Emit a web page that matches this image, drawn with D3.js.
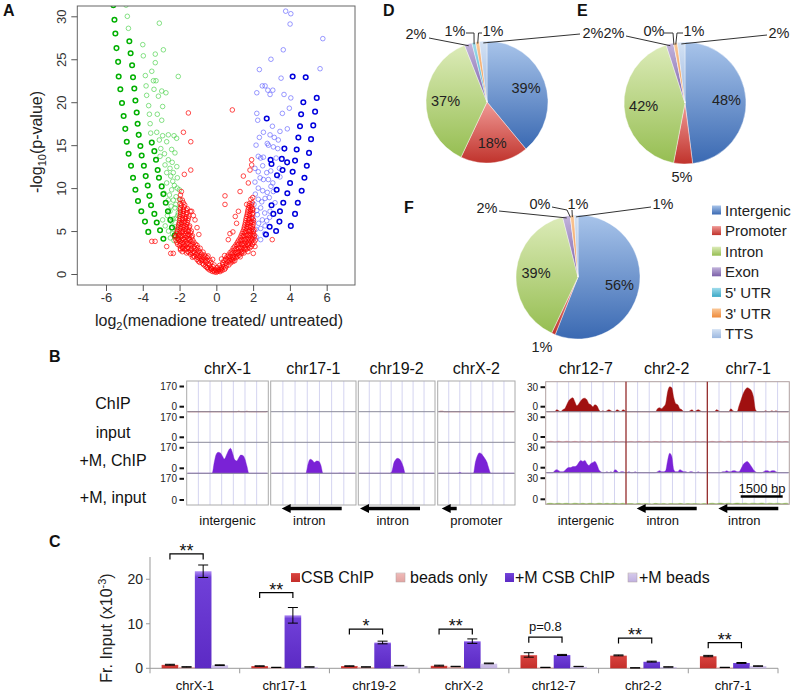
<!DOCTYPE html>
<html><head><meta charset="utf-8">
<script src="https://cdn.jsdelivr.net/npm/d3@7"></script>
<style>body{margin:0;background:#fff}svg{display:block}</style>
</head><body><svg id="c" width="792" height="691"></svg>
<script>
// ---------------- DATA ----------------
// Panel A: volcano plot points [log2FC, -log10 p]
const volcanoXTicks = [-6,-4,-2,0,2,4,6];
const volcanoYTicks = [0,5,10,15,20,25,30];
const greenBold = [
[-5.60,31.3],[-5.54,29.6],[-5.49,28.0],[-5.43,26.3],[-5.34,24.7],[-5.31,23.0],[-5.22,21.5],[-5.13,19.9],[-5.04,18.4],[-4.95,16.9],[-4.87,15.4],[-4.77,14.0],[-4.64,12.6],[-4.53,11.2],[-4.40,9.8],[-4.26,8.5],[-4.08,7.3],[-3.88,6.1],[-3.70,4.9],
[-4.73,27.1],[-4.66,25.7],[-4.58,24.3],[-4.53,22.9],[-4.46,21.6],[-4.40,20.2],[-4.33,18.8],[-4.28,17.5],[-4.22,16.2],[-4.13,14.9],[-4.06,13.8],[-3.94,12.6],[-3.84,11.4],[-3.73,10.3],[-3.64,9.1],[-3.55,8.0],[-3.37,7.0],[-3.24,6.0],[-3.06,5.1],[-2.88,4.1],
[-3.51,15.3],[-3.37,14.3],[-3.28,13.3],[-3.19,12.1],[-3.12,11.2],[-2.97,10.2],[-2.88,9.3],[-2.75,8.3],[-2.63,7.3],[-2.50,6.3],[-2.41,5.4],[-2.26,4.5]
];
const greenLight = [
[-4.91,31.3],[-4.84,30.0],[-4.78,28.6],[-4.00,26.7],[-3.97,25.4],[-3.86,23.1],[-3.82,21.9],[-3.79,20.8],[-3.51,23.6],[-3.42,22.5],[-3.39,21.5],[-3.32,25.6],[-3.32,24.6],[-3.10,29.2],[-2.88,26.1],[-3.28,22.5],[-2.97,21.3],[-2.74,21.1],[-3.15,20.7],[-2.92,19.5],[-3.68,19.6],[-3.64,18.6],[-3.60,17.5],[-3.21,18.6],[-2.97,17.9],[-3.57,16.4],[-3.24,16.5],[-2.92,16.1],[-2.61,16.2],[-2.30,16.1],[-2.16,15.8],[-2.07,23.0],[-2.70,15.4],[-2.43,14.5],[-2.25,14.1],[-3.10,15.6],[-3.02,14.6],[-2.82,14.0],
[-2.61,13.3],[-2.52,12.3],[-2.48,11.4],[-2.70,10.6],[-2.37,10.8],[-2.43,9.8],[-2.34,8.6],[-2.61,8.6],[-2.25,7.7],[-2.52,7.3],[-2.19,6.5],[-2.43,6.1],[-2.16,5.1],[-2.37,4.7],[-2.07,4.4],[-2.34,11.8],[-2.12,11.2],[-2.19,9.0],[-2.01,9.8],[-2.07,7.1],[-2.01,5.9],[-1.97,8.6],[-2.25,5.5],[-2.70,11.8],[-2.79,12.7],[-3.06,13.7],[-2.84,9.4],[-2.92,6.3],[-2.55,9.2],[-2.28,10.3],[-2.15,12.5],[-2.40,13.0],[-2.60,5.0],[-2.10,6.8],[-2.30,3.9],[-2.05,4.0],[-2.50,4.2],[-2.20,8.1],[-2.66,6.8],[-2.78,5.6],[-2.13,10.0],[-2.02,7.6],[-2.46,7.9],[-2.35,6.4]
];
const blueLight = [
[3.77,30.6],[4.05,30.3],[4.01,29.1],[5.79,27.4],[3.64,26.1],[2.97,25.0],[5.64,23.9],[2.34,23.8],[3.52,22.8],[2.50,21.9],[2.65,21.9],[2.20,21.1],[2.80,21.4],[3.07,21.4],[2.92,20.9],[3.68,20.9],[4.05,20.5],[3.97,19.3],[3.59,18.7],[2.20,18.7],[2.25,17.9],[3.05,17.2],[3.86,16.9],[3.46,16.6],[2.56,16.5],[2.92,16.2],[3.15,15.9],[3.37,15.6],[2.34,15.9],[2.77,15.2],[2.16,15.0],[2.83,15.0],[3.10,14.8],[3.34,14.6],[2.28,13.7],[2.41,13.5],[2.56,13.6],[3.25,13.5],[2.52,12.6],[2.10,12.3],[2.28,11.9],[2.74,11.8],[2.96,12.0],[3.46,11.3],[3.43,12.3],[2.38,11.2],[2.56,11.0],[2.83,11.0],[2.10,10.7],[3.07,10.6],[2.28,10.0],[2.52,9.7],[2.77,9.5],[2.97,10.2],[3.19,8.3],[2.28,8.7],[2.47,8.4],[2.65,8.8],[2.88,8.9],[2.92,7.3],[2.41,7.7],[2.63,7.1],[2.23,6.9],[2.50,6.3],[2.74,6.2],[2.30,5.9],[2.41,5.3],[2.63,4.7],[2.16,4.3],[2.41,4.0],[2.65,5.6],[2.12,9.3],[2.20,7.4],[2.05,8.1],[2.15,5.2],[2.90,6.6],[3.10,9.6],[2.00,6.4]
];
const blueBold = [
[4.15,23.0],[4.86,22.9],[5.46,20.5],[4.73,20.0],[5.37,18.9],[2.74,18.1],[4.61,18.6],[5.27,17.3],[4.55,17.2],[4.46,15.9],[5.15,15.7],[3.70,14.6],[4.37,14.5],[5.04,14.1],[3.56,13.4],[4.28,13.2],[4.92,12.6],[4.15,11.9],[4.79,11.2],[4.01,10.6],[4.64,9.7],[3.28,9.8],[3.86,9.4],[4.43,8.3],[3.64,8.3],[4.28,7.0],[3.46,7.3],[3.25,5.0],[4.05,5.6],[3.43,6.1],[3.00,8.0],[3.10,7.0],[2.90,5.5],[2.70,4.6],[3.30,11.5],[3.00,12.8],[3.60,12.1],[2.95,13.3],[3.85,13.0]
];
const redPts = [
[-1.52,18.75],[-1.79,16.5],[-1.39,15.4],[-1.39,12.1],[-1.74,11.6],[0.87,19.1],[0.47,9.1],[0.47,8.1],[1.29,9.6],[1.74,10.6],[1.47,11.4],[1.92,13.3],[1.92,12.7],[1.83,12.1],[-2.70,3.2],[-2.48,2.4],[-2.34,2.4],[-1.83,3.0],[2.01,2.4],[2.10,3.2],[0.65,4.0],[0.74,4.7],[-3.51,3.8],[-3.33,3.8],[3.04,4.0],[-1.90,9.6],[-1.95,9.2],
[-1.34,7.3],[-1.16,6.3],[-1.25,6.8],[1.20,7.3],[1.03,6.7],[1.10,5.9],[-1.05,5.4],[-0.95,4.6],[0.90,4.9],
[-0.35,0.45],[-0.22,0.3],[-0.10,0.25],[0.00,0.2],[0.08,0.3],[0.20,0.28],[0.32,0.42],[-0.45,0.6],[0.45,0.55],[-0.05,0.5],[0.12,0.55],
[0.00,0.4],[-0.15,0.4],[0.15,0.45],[-0.28,0.55],[0.25,0.5],
[-0.60,0.9],[-0.48,0.75],[-0.30,0.7],[-0.18,0.85],[0.25,0.75],[0.40,0.85],[0.55,0.95],[0.18,1.0],[-0.70,1.1],[0.68,1.05],
[-0.25,0.6],[0.28,0.62],[-0.52,0.8],[0.50,0.72],[-0.38,1.0],[0.05,0.75],[-0.12,1.05],[0.35,1.1],
[-0.90,1.35],[-0.75,1.25],[-0.58,1.4],[-0.42,1.2],[-0.30,1.35],[0.35,1.3],[0.50,1.2],[0.62,1.4],[0.78,1.3],[0.90,1.45],
[-0.98,1.5],[-0.82,1.55],[-0.66,1.5],[-0.50,1.55],[-0.35,1.6],[0.42,1.55],[0.58,1.6],[0.72,1.55],[0.86,1.6],[1.00,1.55],[-0.20,1.7],[0.28,1.75],
[-1.05,1.7],[-0.92,1.8],[-0.78,1.65],[-0.62,1.75],[-0.50,1.9],[0.52,1.75],[0.68,1.85],[0.82,1.7],[0.95,1.8],[1.08,1.9],
[-1.30,1.95],[-1.18,2.0],[-1.02,1.95],[-0.88,2.0],[-0.72,1.95],[-0.58,2.05],[-0.45,2.1],[0.58,2.0],[0.74,2.05],[0.88,1.98],[1.02,2.02],[1.16,2.08],[1.30,2.0],[0.45,2.15],
[-1.40,2.3],[-1.25,2.1],[-1.10,2.25],[-0.95,2.15],[-0.80,2.3],[-0.65,2.2],[0.65,2.2],[0.80,2.35],[0.95,2.1],[1.10,2.3],[1.25,2.2],[1.38,2.4],
[-1.62,2.45],[-1.48,2.5],[-1.32,2.45],[-1.18,2.5],[-1.02,2.45],[-0.88,2.5],[-0.72,2.55],[0.75,2.5],[0.90,2.45],[1.05,2.5],[1.20,2.45],[1.35,2.55],[1.50,2.45],[-1.95,2.8],[1.72,2.6],
[-1.70,2.8],[-1.55,2.6],[-1.40,2.75],[-1.25,2.65],[-1.10,2.8],[-0.95,2.7],[0.85,2.7],[1.00,2.8],[1.15,2.6],[1.30,2.75],[1.45,2.65],[1.60,2.85],[-1.85,2.6],
[-1.95,2.95],[-1.80,3.0],[-1.65,2.95],[-1.50,3.0],[-1.35,2.95],[-1.18,3.0],[-1.02,3.05],[-0.88,3.0],[0.92,3.0],[1.08,2.95],[1.22,3.0],[1.38,2.95],[1.52,3.0],[1.68,2.95],[1.82,3.05],
[-2.00,3.3],[-1.85,3.15],[-1.70,3.25],[-1.55,3.1],[-1.40,3.3],[-1.20,3.2],[-1.05,3.35],[1.00,3.2],[1.15,3.35],[1.30,3.1],[1.45,3.3],[1.60,3.15],[1.75,3.3],[1.90,3.2],
[-2.10,3.45],[-1.95,3.5],[-1.78,3.45],[-1.62,3.5],[-1.47,3.45],[-1.30,3.5],[-1.13,3.45],[1.08,3.45],[1.22,3.5],[1.38,3.45],[1.52,3.5],[1.68,3.45],[1.82,3.5],[1.97,3.45],
[-2.15,3.7],[-2.00,3.8],[-1.85,3.65],[-1.70,3.75],[-1.55,3.6],[-1.38,3.8],[-1.22,3.7],[1.15,3.7],[1.30,3.85],[1.45,3.6],[1.60,3.75],[1.75,3.65],[1.90,3.8],[2.05,3.7],
[-2.20,3.95],[-2.05,4.0],[-1.90,3.95],[-1.75,4.0],[-1.60,3.95],[-1.45,4.0],[-1.28,3.95],[1.22,3.95],[1.38,4.0],[1.52,3.95],[1.68,4.0],[1.82,3.95],[1.98,4.0],[2.12,3.95],
[-2.25,4.3],[-2.10,4.15],[-1.95,4.3],[-1.80,4.1],[-1.65,4.25],[-1.50,4.15],[-1.35,4.3],[1.30,4.2],[1.45,4.35],[1.60,4.1],[1.75,4.25],[1.90,4.15],[2.05,4.3],
[-2.20,4.45],[-2.05,4.5],[-1.90,4.45],[-1.75,4.5],[-1.60,4.45],[-1.45,4.5],[-1.30,4.45],[1.35,4.45],[1.50,4.5],[1.65,4.45],[1.80,4.5],[1.95,4.45],[2.08,4.5],
[-2.15,4.75],[-2.00,4.65],[-1.85,4.8],[-1.70,4.7],[-1.55,4.6],[-1.40,4.8],[1.40,4.7],[1.55,4.8],[1.70,4.6],[1.85,4.75],[2.00,4.65],
[-2.12,4.95],[-1.98,5.0],[-1.82,4.95],[-1.67,5.0],[-1.52,4.95],[-1.36,5.0],[1.45,4.95],[1.60,5.0],[1.75,4.95],[1.90,5.0],[2.02,4.95],
[-2.10,5.2],[-1.95,5.3],[-1.80,5.15],[-1.65,5.25],[-1.50,5.1],[1.50,5.2],[1.65,5.3],[1.80,5.1],[1.95,5.25],[2.05,5.15],
[-2.08,5.45],[-1.92,5.5],[-1.78,5.45],[-1.62,5.5],[-1.48,5.45],[1.52,5.45],[1.67,5.5],[1.82,5.45],[1.96,5.5],
[-2.05,5.7],[-1.90,5.8],[-1.75,5.65],[-1.60,5.75],[-1.45,5.6],[1.55,5.7],[1.70,5.8],[1.85,5.6],[2.00,5.75],
[-2.02,5.95],[-1.88,6.0],[-1.72,5.95],[-1.58,6.0],[1.58,5.95],[1.72,6.0],[1.87,5.95],[2.00,6.0],
[-2.00,6.2],[-1.85,6.3],[-1.70,6.15],[-1.55,6.25],[1.60,6.2],[1.75,6.3],[1.90,6.1],[2.02,6.25],
[-1.98,6.45],[-1.84,6.5],[-1.68,6.45],[-1.52,6.5],[1.62,6.45],[1.78,6.5],[1.92,6.45],
[-1.98,6.7],[-1.82,6.8],[-1.65,6.65],[-1.50,6.75],[1.65,6.7],[1.80,6.8],[1.95,6.6],
[-1.95,6.95],[-1.80,7.0],[-1.64,6.95],[1.68,6.95],[1.82,7.0],[1.96,6.95],
[-1.95,7.2],[-1.78,7.3],[-1.60,7.15],[-1.42,7.3],[1.70,7.2],[1.85,7.3],[1.98,7.1],
[-1.96,7.45],[-1.80,7.5],[-1.64,7.45],[1.72,7.45],[1.86,7.5],[1.98,7.45],
[-1.95,7.7],[-1.75,7.8],[-1.58,7.6],[1.75,7.7],[1.90,7.8],[1.98,7.6],
[-1.90,8.0],[-1.72,8.05],[1.78,7.95],[1.92,8.05],
[-1.97,8.2],[-1.80,8.3],[1.80,8.2],[1.95,8.3],[1.65,8.1],
[-1.98,8.7],[-1.85,8.6],[1.88,8.7],[1.98,8.9]
];

// Panels D/E/F: genomic annotation pies (%)
const pieCategories = ['Intergenic','Promoter','Intron','Exon',"5' UTR","3' UTR",'TTS'];
const pieD = [39,18,37,2,1,1,2];
const pieE = [48,5,42,2,0,1,2];
const pieF = [56,1,39,2,0,1,1];

// Panel B: tracks (40 bins per locus)
const leftLoci = ['chrX-1','chr17-1','chr19-2','chrX-2'];
const rightLoci = ['chr12-7','chr2-2','chr7-1'];
const trackRows = ['ChIP','input','+M, ChIP','+M, input'];
const leftMax = 170, rightMax = 30;
const leftRegion = ['intergenic','intron','intron','promoter'];
const rightRegion = ['intergenic','intron','intron'];
const chrX1_ChIP = [0,0,0,0,0,0,0,0,0,0,0,0,0,0,0,0,0,0,0,0,0,0,0,0,0,3,0,0,0,3,0,0,0,0,0,0,0,0,0,2];
const chrX1_M = [0,0,0,0,0,0,0,0,0,0,0,0,0,60,105,115,112,95,78,100,125,137,110,75,68,85,100,98,80,40,0,0,0,0,0,0,0,0,0,0];
const chr17_M = [0,0,0,0,0,0,0,0,0,0,0,0,0,0,0,0,0,50,77,72,60,68,66,45,0,0,0,0,0,0,0,0,2,0,0,0,0,0,0,0];
const chr19_M = [0,0,0,0,0,0,0,0,0,0,0,0,0,0,0,0,0,10,55,75,82,78,62,35,0,0,0,0,0,0,0,0,0,0,0,0,0,0,0,0];
const chrX2_ChIP = [0,3,3,0,0,0,0,0,0,0,0,0,0,0,0,0,0,0,0,0,0,0,0,0,0,0,0,0,0,0,0,0,0,0,0,0,0,0,0,0];
const chrX2_M = [0,0,0,0,0,0,0,0,0,0,0,4,0,0,0,0,0,0,0,60,95,112,108,95,80,60,25,0,0,0,0,0,0,0,0,0,0,0,0,0];
const chr12_ChIP = [0,0,0,0,0,2,1,0,2,3,7,11,13,14,10,6,8,11,13,13.5,12,8,7,5,7,6,2,0,1,0,1,2,1,0,0,2,1,0,2,1];
const chr2_ChIP = [0,0,0,0,0,0,0,0,0,0,0,0,0,0,0,3,4,3,5,8,20,25,24,14,8,7,3,2,0,0,0,1,2,0,1,2,1,0,0,0];
const chr7_ChIP = [0,0,0,0,2,1,0,0,0,0,0,3,1,0,0,6,12,18,22,24,23,21,15,2,0,0,0,0,1,0,0,1,0,1,0,0,0,0,0,0];
const chr12_M = [0,0,0,0,2,3,2,1,1,2,4,5,5,6,6,7,10,12,11,12,9,7,9,10,11,8,3,1,0,0,1,0,1,0,3,2,0,1,1,0];
const chr2_M = [0,1,0,0,1,0,0,0,0,0,0,0,0,0,0,1,2,1,1,2,12,19,16,3,1,1,3,2,1,1,0,1,1,0,0,1,0,0,0,0];
const chr7_M = [0,0,0,0,0,0,0,1,1,2,1,1,2,2,1,1,4,8,10,11,9,6,3,1,0,0,0,1,2,2,1,2,2,1,0,0,0,0,0,0];
const chr12_in = [0,0.5,0.8,0.5,0,0.6,0.9,0.4,0,0.5,0.8,0.6,0,0.4,0.7,0.5,0,0.6,0.8,0.4,0,0.5,0.7,0.3,0,0.6,0.8,0.5,0,0.4,0.6,0.3,0,0.5,0.7,0.4,0,0.5,0.6,0];
const chr2_in = [0,0.4,0.6,0.3,0,0.5,0.7,0.4,0,0.4,0.6,0.5,0,0.3,0.6,0.4,0,0.5,0.7,0.4,0,0.6,0.8,0.4,0,0.5,0.6,0.3,0,0.4,0.5,0.3,0,0.4,0.6,0.4,0,0.5,0.5,0];
const chr7_in = [0,0.5,0.7,0.4,0,0.5,0.8,0.4,0,0.6,0.7,0.4,0,0.5,0.6,0.5,0,0.5,0.9,0.5,0,0.6,0.7,0.4,0,0.5,0.7,0.3,0,0.5,0.6,0.4,0,0.5,0.7,0.4,0,0.5,0.6,0];
const chr12_Min = [0.6,0.9,1.0,0.8,0.5,0.9,1.1,0.8,0.6,0.9,1.0,0.7,0.5,0.8,1.1,0.9,0.6,0.8,1.0,0.7,0.5,0.9,1.0,0.8,0.6,0.8,1.1,0.9,0.5,0.7,1.0,0.8,0.6,0.9,1.0,0.7,0.5,0.8,1.0,0.6];
const chr2_Min = [0.5,0.7,0.8,0.6,0.4,0.7,0.9,0.6,0.5,0.7,0.8,0.5,0.4,0.6,0.9,0.7,0.5,0.6,0.8,0.6,0.4,0.7,0.8,0.6,0.5,0.6,0.9,0.7,0.4,0.6,0.8,0.6,0.5,0.7,0.8,0.5,0.4,0.6,0.8,0.5];
const chr7_Min = [0.6,0.9,1.1,0.8,0.6,1.0,1.2,0.9,0.6,0.9,1.1,0.8,0.6,0.9,1.2,1.0,0.7,0.9,1.1,0.8,0.6,1.0,1.1,0.9,0.7,0.9,1.2,1.0,0.6,0.8,1.1,0.9,0.7,1.0,1.1,0.8,0.6,0.9,1.1,0.7];
const scaleBarLabel = '1500 bp';

// Panel C: ChIP-qPCR
const barCats = ['chrX-1','chr17-1','chr19-2','chrX-2','chr12-7','chr2-2','chr7-1'];
const barSeries = ['CSB ChIP','beads only','+M CSB ChIP','+M beads'];
const csbChip   = [0.8,0.5,0.5,0.6,3.0,2.9,2.75];
const csbChipErr= [0.1,0.05,0.05,0.1,0.5,0.1,0.15];
const beadsOnly = [0.3,0.2,0.3,0.4,0.2,0.1,0.2];
const beadsErr  = [0.05,0.03,0.03,0.05,0.03,0.02,0.03];
const mCsbChip  = [21.8,11.9,5.8,6.1,3.0,1.5,1.2];
const mCsbErr   = [1.4,1.75,0.3,0.5,0.12,0.1,0.1];
const mBeads    = [0.7,0.3,0.6,1.1,0.4,0.3,0.5];
const mBeadsErr = [0.08,0.03,0.05,0.08,0.04,0.03,0.05];
const sigLabels = ['**','**','*','**','p=0.8','**','**'];
const sigLevel  = [25.7,17.0,8.8,8.8,7.0,6.8,5.75];
const barYTicks = [0,10,20];

// ---------------- DRAW ----------------
const FONT = '"Liberation Sans", Arial, sans-serif';
const svg = d3.select('#c').attr('font-family', FONT);
svg.append('rect').attr('width',792).attr('height',691).attr('fill','#fff');
const defs = svg.append('defs');
function lg(id, stops){
  const g = defs.append('linearGradient').attr('id',id).attr('x1',0).attr('y1',0).attr('x2',0).attr('y2',1);
  stops.forEach(s=>g.append('stop').attr('offset',s[0]).attr('stop-color',s[1]));
  return `url(#${id})`;
}

[['A',3,16],['D',383,16],['E',577,16],['F',404,213],['B',49,362],['C',49,547]].forEach(l=>{
  svg.append('text').attr('x',l[1]).attr('y',l[2]).attr('font-size',16).attr('font-weight','bold').attr('fill','#111').text(l[0]);
});

// ---- Panel A ----
const vx = d3.scaleLinear().domain([-7.56,7.54]).range([77.3,355]);
const vy = d3.scaleLinear().domain([-1.28,31.2]).range([285,6]);
defs.append('clipPath').attr('id','clipA').append('rect').attr('x',77.3).attr('y',6).attr('width',277.7).attr('height',279);
const gA = svg.append('g');
const ptsG = gA.append('g').attr('clip-path','url(#clipA)');
function dots(data,color,op,sw){
  ptsG.append('g').selectAll('circle').data(data).join('circle')
    .attr('cx',d=>vx(d[0])).attr('cy',d=>vy(d[1])).attr('r',2.3)
    .attr('fill','none').attr('stroke',color).attr('stroke-opacity',op).attr('stroke-width',sw);
}
dots(greenLight,'#33cc33',0.65,0.9);
dots(greenBold,'#00b000',1,1.5);
dots(blueLight,'#4444ff',0.6,0.9);
dots(blueBold,'#0000dd',1,1.5);
dots(redPts,'#ff0000',0.7,1.0);
gA.append('rect').attr('x',77.3).attr('y',6).attr('width',277.7).attr('height',279).attr('fill','none').attr('stroke','#666').attr('stroke-width',1);
const axA = gA.append('g').attr('transform','translate(0,285)')
  .call(d3.axisBottom(vx).tickValues(volcanoXTicks).tickSize(6).tickPadding(2).tickFormat(d=>String(d)));
axA.attr('font-family',FONT).attr('font-size',13);
axA.select('.domain').remove();
axA.selectAll('line').attr('stroke','#555');
axA.selectAll('text').attr('fill','#333');
const ayA = gA.append('g').attr('transform','translate(77.3,0)')
  .call(d3.axisLeft(vy).tickValues(volcanoYTicks).tickSize(6).tickFormat(d=>String(d)));
ayA.attr('font-family',FONT).attr('font-size',13);
ayA.select('.domain').remove();
ayA.selectAll('line').attr('stroke','#555');
ayA.selectAll('text').attr('fill','#333').attr('transform','rotate(-90)').attr('x',0).attr('y',-11).attr('dy',0).attr('text-anchor','middle');
const yl = svg.append('text').attr('transform','translate(42,142) rotate(-90)').attr('text-anchor','middle').attr('font-size',16).attr('fill','#222');
yl.append('tspan').text('-log');
yl.append('tspan').attr('font-size',11).attr('dy',4).text('10');
yl.append('tspan').attr('dy',-4).text('(p-value)');
const xl = svg.append('text').attr('x',219).attr('y',326).attr('text-anchor','middle').attr('font-size',16).attr('fill','#222');
xl.append('tspan').text('log');
xl.append('tspan').attr('font-size',11).attr('dy',4).text('2');
xl.append('tspan').attr('dy',-4).text('(menadione treated/ untreated)');

// ---- Panels D/E/F ----
const pieColors = [['#a8c4ea','#3a69b2'],['#f09a96','#c0332c'],['#dcebb8','#96be52'],['#c2b4dc','#7b5fa8'],['#a0dcec','#3aa8c6'],['#fac898','#ee8a3a'],['#d4e2f4','#9cb8e0']];
const pieFills = pieColors.map((c,i)=>lg('pf'+i,[['0',c[0]],['1',c[1]]]));
const pieGen = d3.pie().sort(null).value(d=>d);
function drawPie(vals,cx,cy,r,ext){
  const g = svg.append('g').attr('transform',`translate(${cx},${cy})`);
  const arcs = pieGen(vals);
  const arc = d3.arc().innerRadius(0).outerRadius(r);
  g.selectAll('path').data(arcs).join('path').attr('d',arc).attr('fill',(d,i)=>pieFills[i]).attr('stroke','#fff').attr('stroke-width',0.4);
  const lab = d3.arc().innerRadius(r*0.68).outerRadius(r*0.68);
  arcs.forEach(a=>{
    if(a.data>=10){
      const c = lab.centroid(a);
      g.append('text').attr('x',c[0]).attr('y',c[1]).attr('text-anchor','middle').attr('dominant-baseline','central').attr('font-size',14.5).attr('fill','#222').text(a.data+'%');
    }
  });
  ext.forEach(e=>{
    const a = arcs[e.i];
    const m = (a.startAngle+a.endAngle)/2;
    const px = cx + r*0.97*Math.sin(m), py = cy - r*0.97*Math.cos(m);
    if(e.p){
      const pts = e.p.concat([[px,py]]);
      svg.append('path').attr('d',d3.line()(pts)).attr('fill','none').attr('stroke','#333').attr('stroke-width',1);
    }
    svg.append('text').attr('x',e.t[0]).attr('y',e.t[1]).attr('text-anchor','middle').attr('dominant-baseline','central').attr('font-size',14.5).attr('fill','#222').text(a.data+'%');
  });
}
drawPie(pieD,487,102,61,[
  {i:3,t:[416,34],p:[[429,38]]},
  {i:4,t:[455,31],p:[[466,33],[474,33]]},
  {i:5,t:[493,31],p:[[482,33],[478.5,33]]},
  {i:6,t:[593,33],p:[[580,34]]}
]);
drawPie(pieE,685,103,61,[
  {i:1,t:[682,177]},
  {i:3,t:[614,33],p:[[626,36]]},
  {i:4,t:[654,31],p:[[664,33],[673,33]]},
  {i:5,t:[694,31],p:[[683,33],[677,33]]},
  {i:6,t:[779,33],p:[[767,35]]}
]);
drawPie(pieF,578,277,62,[
  {i:1,t:[542,347]},
  {i:3,t:[487,208],p:[[499,211]]},
  {i:4,t:[540,204],p:[[552,207],[567,210]]},
  {i:5,t:[578,204],p:[[572,210]]},
  {i:6,t:[663,204],p:[[651,207]]}
]);
pieCategories.forEach((c,i)=>{
  const y = 210 + i*20.6;
  svg.append('rect').attr('x',712).attr('y',y-4.5).attr('width',9).attr('height',9).attr('fill',pieFills[i]);
  svg.append('text').attr('x',725).attr('y',y).attr('dominant-baseline','central').attr('font-size',15).attr('fill','#222').text(c);
});

// ---- Panel B ----
const area = (xs,ys)=>d3.area().x((d,i)=>xs(i)).y0(ys(0)).y1(d=>ys(Math.min(d,ys.domain()[1]))).curve(d3.curveMonotoneX);
function trackGroup(boxes, rows, ymax, tracks, colors, titles, regions, axisRight, redSep){
  const g = svg.append('g');
  boxes.forEach((b,bi)=>{
    for(let k=1;k<7;k++){
      const x = b[0] + (b[1]-b[0])*k/7;
      g.append('line').attr('x1',x).attr('x2',x).attr('y1',rows[0]).attr('y2',rows[4]).attr('stroke','#d4d4f0').attr('stroke-width',1);
    }
    const xs = d3.scaleLinear().domain([0,39]).range([b[0]+1,b[1]-1]);
    tracks[bi].forEach((t,ri)=>{
      if(!t) return;
      const ys = d3.scaleLinear().domain([0,ymax]).range([rows[ri+1],rows[ri]]);
      g.append('path').attr('d',area(xs,ys)(t)).attr('fill',colors[ri]).attr('stroke',colors[ri]).attr('stroke-width',0.4);
    });
    for(let r=1;r<4;r++){
      g.append('line').attr('x1',b[0]).attr('x2',b[1]).attr('y1',rows[r]).attr('y2',rows[r]).attr('stroke','#8a8a9a').attr('stroke-width',1);
    }
    if(!redSep){
      g.append('rect').attr('x',b[0]).attr('y',rows[0]).attr('width',b[1]-b[0]).attr('height',rows[4]-rows[0]).attr('fill','none').attr('stroke','#aaa');
    }
    svg.append('text').attr('x',(b[0]+b[1])/2).attr('y',368).attr('text-anchor','middle').attr('dominant-baseline','central').attr('font-size',16).attr('fill','#111').text(titles[bi]);
    svg.append('text').attr('x',(b[0]+b[1])/2 + (regions[bi]==='intron'?-4:0)).attr('y',520).attr('text-anchor','middle').attr('dominant-baseline','central').attr('font-size',13).attr('fill','#111').text(regions[bi]);
  });
  if(redSep){
    g.append('rect').attr('x',boxes[0][0]).attr('y',rows[0]).attr('width',boxes[boxes.length-1][1]-boxes[0][0]).attr('height',rows[4]-rows[0]).attr('fill','none').attr('stroke','#b0a0a0');
    boxes.slice(1).forEach(b=>g.append('line').attr('x1',b[0]).attr('x2',b[0]).attr('y1',rows[0]).attr('y2',rows[4]).attr('stroke','#8b1a1a').attr('stroke-width',1.2));
  }
  for(let r=0;r<4;r++){
    [[rows[r]+5.5,String(ymax)],[rows[r+1]-5,'0']].forEach(([y,txt])=>{
      g.append('text').attr('x',axisRight).attr('y',y).attr('text-anchor','end').attr('dominant-baseline','central').attr('font-size',10).attr('fill','#222').text(txt);
      g.append('line').attr('x1',axisRight+2.5).attr('x2',axisRight+7).attr('y1',y).attr('y2',y).attr('stroke','#111').attr('stroke-width',2);
    });
  }
}
const leftRows = [381,411.7,442.3,473.3,505];
const rightRows = [381.7,411.7,442,472.7,504.3];
trackGroup([[186.7,268.3],[270.7,356],[358.3,435],[437.7,515]], leftRows, leftMax,
  [[chrX1_ChIP,null,chrX1_M,null],[null,null,chr17_M,null],[null,null,chr19_M,null],[chrX2_ChIP,null,chrX2_M,null]],
  ['#a01010','#f08a8a','#7a22d6','#7cb342'], leftLoci, leftRegion, 177, false);
trackGroup([[545.7,626],[626,707.3],[707.3,789.3]], rightRows, rightMax,
  [[chr12_ChIP,chr12_in,chr12_M,chr12_Min],[chr2_ChIP,chr2_in,chr2_M,chr2_Min],[chr7_ChIP,chr7_in,chr7_M,chr7_Min]],
  ['#a01010','#f08a8a','#7a22d6','#86b64a'], rightLoci, rightRegion, 538, true);
trackRows.forEach((t,i)=>{
  svg.append('text').attr('x',113).attr('y',[403,432,460,497][i]).attr('text-anchor','middle').attr('dominant-baseline','central').attr('font-size',16).attr('fill','#111').text(t);
});
function arrow(x1,x2,y){
  svg.append('line').attr('x1',x1+6).attr('x2',x2).attr('y1',y).attr('y2',y).attr('stroke','#000').attr('stroke-width',3.5);
  svg.append('path').attr('d',`M${x1},${y}L${x1+9},${y-4.5}L${x1+9},${y+4.5}Z`).attr('fill','#000');
}
arrow(281.7,341.7,508.5);
arrow(360,420,508.5);
arrow(441.7,456.7,508.5);
arrow(636.7,696.7,508.5);
arrow(718.3,778.3,508.5);
svg.append('line').attr('x1',740.7).attr('x2',782.7).attr('y1',496.5).attr('y2',496.5).attr('stroke','#000').attr('stroke-width',2.5);
svg.append('text').attr('x',762).attr('y',488).attr('text-anchor','middle').attr('dominant-baseline','central').attr('font-size',13).attr('fill','#111').text(scaleBarLabel);

// ---- Panel C ----
const bx0 = d3.scaleBand().domain(barCats).range([150,778]);
const bx1 = d3.scaleBand().domain(barSeries).range([0,bx0.bandwidth()]).paddingOuter(0.7);
const by = d3.scaleLinear().domain([0,25]).range([668.3,557]);
const barVals = [csbChip,beadsOnly,mCsbChip,mBeads];
const barErrs = [csbChipErr,beadsErr,mCsbErr,mBeadsErr];
const barFills = [
  lg('b0',[['0','#f4a09c'],['0.07','#d8423e'],['1','#c42e2a']]),
  lg('b1',[['0','#fbe0de'],['0.1','#eeb8b6'],['1','#e2a4a2']]),
  lg('b2',[['0','#b08cf4'],['0.06','#7040d8'],['1','#5c2ac4']]),
  lg('b3',[['0','#f0ecfa'],['0.1','#d4c8ea'],['1','#c0b0e0']])
];
const gC = svg.append('g');
gC.append('line').attr('x1',150).attr('x2',150).attr('y1',by(0)).attr('y2',by(25)).attr('stroke','#999');
gC.append('line').attr('x1',150).attr('x2',778).attr('y1',by(0)).attr('y2',by(0)).attr('stroke','#999');
bx0.domain().concat(['__end']).forEach((c,i)=>{
  const x = 150 + i*bx0.step();
  gC.append('line').attr('x1',x).attr('x2',x).attr('y1',by(0)).attr('y2',by(0)+5).attr('stroke','#999');
});
barYTicks.forEach(t=>{
  gC.append('line').attr('x1',146).attr('x2',150).attr('y1',by(t)).attr('y2',by(t)).attr('stroke','#999');
  gC.append('text').attr('x',143).attr('y',by(t)).attr('text-anchor','end').attr('dominant-baseline','central').attr('font-size',14).attr('fill','#222').text(t);
});
barSeries.forEach((s,si)=>{
  gC.append('g').selectAll('rect').data(barCats).join('rect')
    .attr('x',c=>bx0(c)+bx1(s)).attr('width',bx1.bandwidth())
    .attr('y',(c,ci)=>by(barVals[si][ci])).attr('height',(c,ci)=>by(0)-by(barVals[si][ci]))
    .attr('fill',barFills[si]);
  barCats.forEach((c,ci)=>{
    const x = bx0(c)+bx1(s)+bx1.bandwidth()/2;
    const v = barVals[si][ci], e = barErrs[si][ci];
    gC.append('path').attr('d',`M${x},${by(v-e)}V${by(v+e)}M${x-5},${by(v+e)}H${x+5}M${x-5},${by(v-e)}H${x+5}`).attr('stroke','#000').attr('stroke-width',1).attr('fill','none');
  });
});
barCats.forEach((c,ci)=>{
  const xa = bx0(c)+bx1(barSeries[0])+bx1.bandwidth()/2;
  const xb = bx0(c)+bx1(barSeries[2])+bx1.bandwidth()/2;
  const y = by(sigLevel[ci]);
  gC.append('path').attr('d',`M${xa},${y+5.5}V${y}H${xb}V${y+5.5}`).attr('stroke','#000').attr('stroke-width',1.2).attr('fill','none');
  const isP = sigLabels[ci].startsWith('p');
  gC.append('text').attr('x',(xa+xb)/2).attr('y',isP? y-6 : y+3).attr('text-anchor','middle').attr('font-size',isP?13:18).attr('fill','#111').text(sigLabels[ci]);
});
barCats.forEach(c=>{
  gC.append('text').attr('x',bx0(c)+bx0.bandwidth()/2).attr('y',685).attr('text-anchor','middle').attr('dominant-baseline','central').attr('font-size',13).attr('fill','#111').text(c);
});
[[291,301],[396,410],[505,515],[628,639]].forEach((p,i)=>{
  gC.append('rect').attr('x',p[0]).attr('y',573).attr('width',9).attr('height',9).attr('fill',barFills[i]).attr('stroke',i%2?'#b0a0a0':'none').attr('stroke-width',0.5);
  gC.append('text').attr('x',p[1]).attr('y',577.5).attr('dominant-baseline','central').attr('font-size',16).attr('fill','#111').text(barSeries[i]);
});
const ylC = svg.append('text').attr('transform','translate(112,628) rotate(-90)').attr('text-anchor','middle').attr('font-size',16).attr('fill','#222');
ylC.append('tspan').text('Fr. Input (x10');
ylC.append('tspan').attr('font-size',11).attr('dy',-6).text('-3');
ylC.append('tspan').attr('dy',6).text(')');
</script></body></html>
